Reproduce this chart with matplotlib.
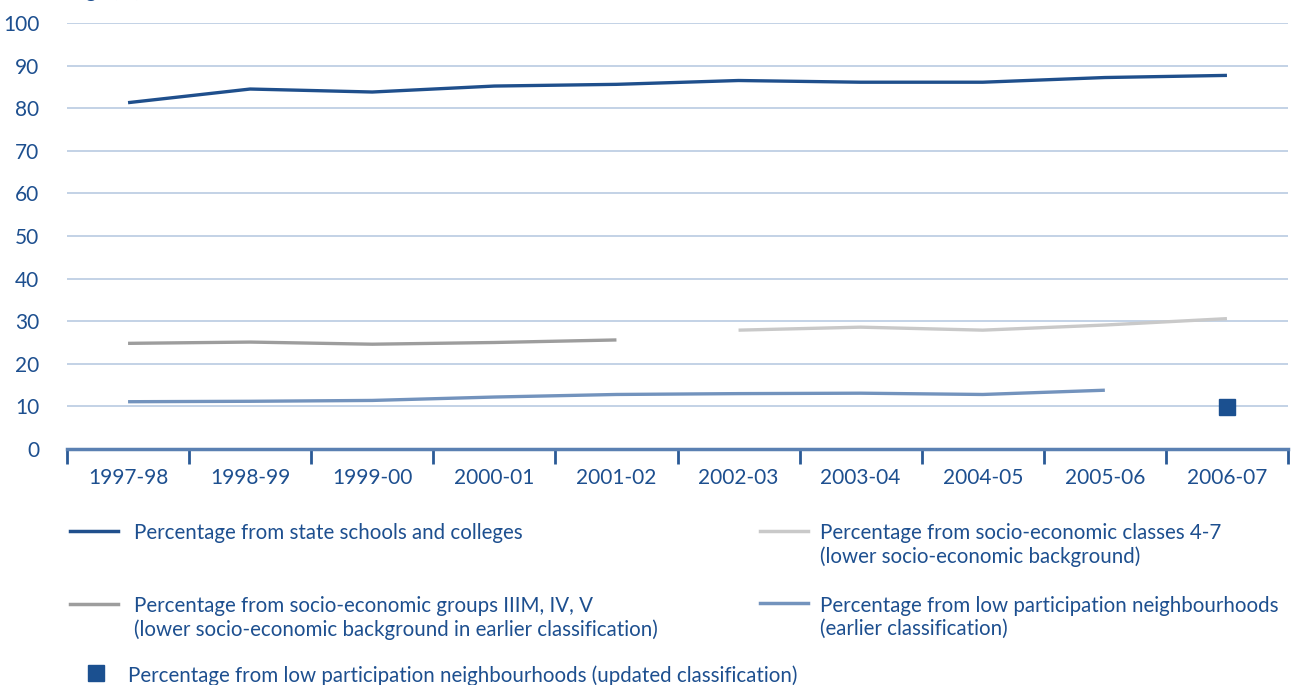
import matplotlib
matplotlib.use('Agg')
import matplotlib.pyplot as plt
from matplotlib.lines import Line2D
import numpy as np

plt.rcParams['font.family'] = ['Lato', 'DejaVu Sans']

years = ['1997-98', '1998-99', '1999-00', '2000-01', '2001-02',
         '2002-03', '2003-04', '2004-05', '2005-06', '2006-07']

state_schools = [81.3, 84.5, 83.8, 85.2, 85.6, 86.5, 86.1, 86.1, 87.2, 87.7]
seg_old = [24.8, 25.1, 24.6, 25.0, 25.6]                 # 1997-98 .. 2001-02
sec_new = [27.9, 28.6, 27.9, 29.1, 30.6]                 # 2002-03 .. 2006-07
lpn_old = [11.1, 11.2, 11.4, 12.2, 12.8, 13.0, 13.1, 12.8, 13.8]  # 1997-98 .. 2005-06
lpn_new = [9.8]                                          # 2006-07

text_col = '#1d4f8f'
c_state = '#1f4f8c'
c_seg = '#9d9d9d'
c_sec = '#c9c9c9'
c_lpn = '#7393bd'
c_sq = '#1b5090'

fig = plt.figure(figsize=(12.93, 6.85), dpi=100)
ax = fig.add_axes([67 / 1293, 1 - 449 / 685, (1288 - 67) / 1293, (449 - 23) / 685])

x = np.arange(len(years))
ax.plot(x, state_schools, color=c_state, lw=2.4, solid_capstyle='butt')
ax.plot(x[:5], seg_old, color=c_seg, lw=2.4, solid_capstyle='butt')
ax.plot(x[5:], sec_new, color=c_sec, lw=2.4, solid_capstyle='butt')
ax.plot(x[:9], lpn_old, color=c_lpn, lw=2.4, solid_capstyle='butt')
ax.plot(x[9:], lpn_new, 's', color=c_sq, ms=11.5, mec=c_sq)

ax.set_xlim(-0.5, 9.5)
ax.set_ylim(0, 100)
ax.set_yticks(range(0, 101, 10))
ax.grid(axis='y', color='#b9cbe2', lw=1.2)
ax.set_axisbelow(True)
for s in ['top', 'right', 'left']:
    ax.spines[s].set_visible(False)
ax.spines['bottom'].set_color('#5a80b2')
ax.spines['bottom'].set_linewidth(2.5)
ax.spines['bottom'].set_zorder(3)

ax.set_xticks(np.arange(-0.5, 10, 1))
ax.set_xticklabels([])
ax.set_xticks(x, minor=True)
ax.set_xticklabels(years, minor=True)
ax.tick_params(axis='x', which='major', direction='out', length=11, width=2, color='#2a5a96')
ax.tick_params(axis='x', which='minor', length=0, pad=14, labelsize=15, labelcolor=text_col)
ax.tick_params(axis='y', length=0, pad=20, labelsize=15, labelcolor=text_col)

# axis title, cropped at the top edge as in the source
fig.text(0.003, 1 + 3 / 685, 'Percentage (%)', color=text_col, fontsize=15, va='baseline', ha='left')

# legend drawn by hand to match the two-column layout
def key_line(x0, x1, y, col):
    fig.add_artist(Line2D([x0 / 1293, x1 / 1293], [1 - y / 685, 1 - y / 685], color=col, lw=2.5,
                          transform=fig.transFigure))

def key_text(xp, yp, s):
    fig.text(xp / 1293, 1 - yp / 685, s, color=text_col, fontsize=14.8, va='top', ha='left', linespacing=1.2)

key_line(70, 118, 531, c_state)
key_text(134, 523, 'Percentage from state schools and colleges')
key_line(760, 808, 531, c_sec)
key_text(820, 523, 'Percentage from socio-economic classes 4-7\n(lower socio-economic background)')
key_line(70, 118, 604, c_seg)
key_text(134, 596, 'Percentage from socio-economic groups IIIM, IV, V\n(lower socio-economic background in earlier classification)')
key_line(760, 808, 603, c_lpn)
key_text(820, 596, 'Percentage from low participation neighbourhoods\n(earlier classification)')
fig.add_artist(Line2D([96 / 1293], [1 - 673 / 685], marker='s', ms=11.5, color=c_sq, ls='none',
                      transform=fig.transFigure))
key_text(128, 665, 'Percentage from low participation neighbourhoods (updated classification)')

fig.savefig('out.png', dpi=100)
